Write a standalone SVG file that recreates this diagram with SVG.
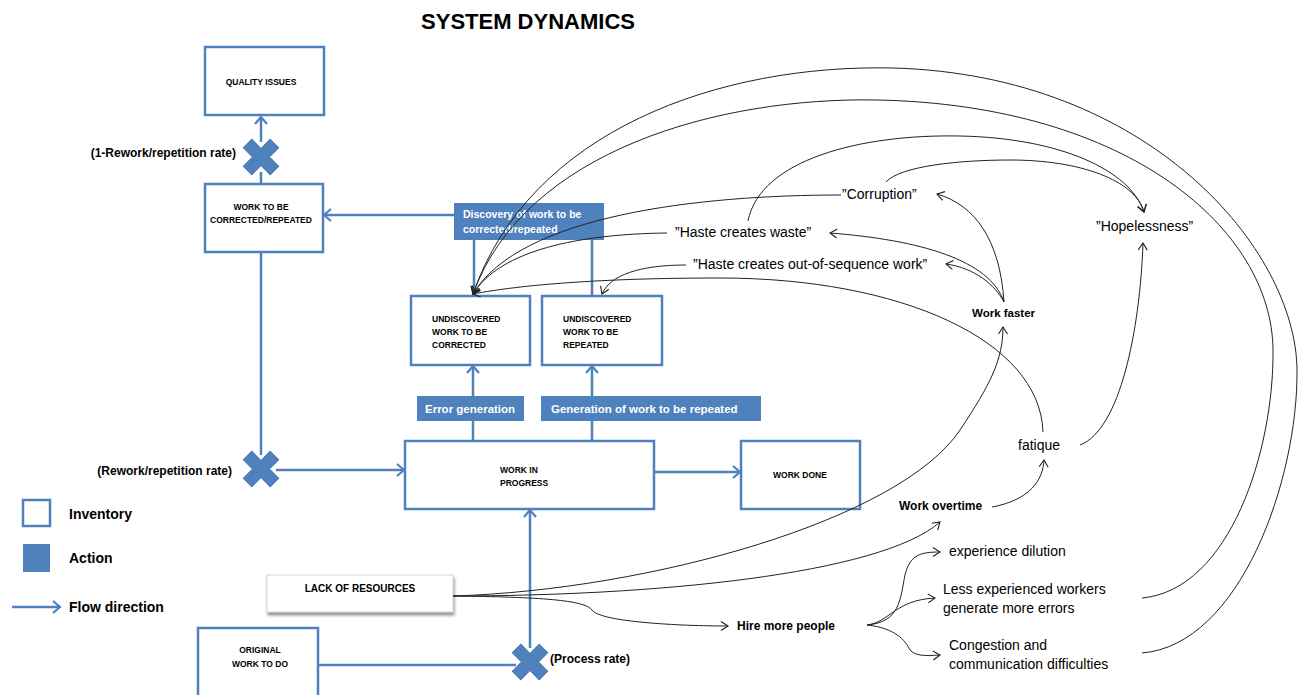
<svg xmlns="http://www.w3.org/2000/svg" xmlns:xlink="http://www.w3.org/1999/xlink" width="1298" height="695" viewBox="0 0 1298 695">
  <style>
    text { font-family: "Liberation Sans", Arial, sans-serif; fill: #000; }
    .title { font-size: 22px; font-weight: bold; }
    .stock { fill: #fff; stroke: #4F81BD; stroke-width: 2.5; }
    .action { fill: #4F81BD; stroke: #4A7AB5; stroke-width: 1; }
    .boxtxt { font-size: 8.5px; font-weight: bold; }
    .acttxt { font-size: 11.5px; font-weight: bold; fill: #fff; }
    .flow { fill: none; stroke: #4F81BD; stroke-width: 2.5; }
    .flowA { fill: none; stroke: #4F81BD; stroke-width: 2.5; marker-end: url(#flowHead); }
    .link { fill: none; stroke: #222; stroke-width: 1; }
    .linkA { fill: none; stroke: #222; stroke-width: 1; marker-end: url(#linkHead); }
    .rate { font-size: 12px; font-weight: bold; }
    .lbl { font-size: 14px; }
    .blbl { font-size: 12px; font-weight: bold; }
    .legend { font-size: 14px; font-weight: bold; }
  </style>
  <defs>
    <marker id="flowHead" markerWidth="12" markerHeight="14" refX="8" refY="7" orient="auto" markerUnits="userSpaceOnUse">
      <path d="M1,1 L8,7 L1,13" fill="none" stroke="#4F81BD" stroke-width="2.2"/>
    </marker>
    <marker id="linkHead" markerWidth="12" markerHeight="12" refX="8" refY="5" orient="auto" markerUnits="userSpaceOnUse">
      <path d="M1,0.5 L8,5 L1,9.5" fill="none" stroke="#222" stroke-width="1.1"/>
    </marker>
    <!-- rate valve: a cross rotated 45 degrees -->
    <g id="valve">
      <polygon transform="rotate(45)" class="action" stroke="#3D6A9E" stroke-width="1.5"
        points="-6,-19 6,-19 6,-6 19,-6 19,6 6,6 6,19 -6,19 -6,6 -19,6 -19,-6 -6,-6"/>
    </g>
    <filter id="shadow" x="-10%" y="-30%" width="125%" height="180%">
      <feDropShadow dx="1" dy="3" stdDeviation="1.5" flood-color="#777" flood-opacity="0.8"/>
    </filter>
  </defs>

  <text class="title" x="528" y="29" text-anchor="middle">SYSTEM DYNAMICS</text>

  <!-- material flows -->
  <g id="flows">
    <path class="flowA" d="M261,142 L261,117"/>
    <path class="flow" d="M261,184 L261,172"/>
    <path class="flow" d="M261,253 L261,455"/>
    <path class="flowA" d="M276,470 L404,470"/>
    <path class="flowA" d="M454,215 L324,215"/>
    <path class="flow" d="M473,441 L473,421"/>
    <path class="flowA" d="M473,396 L473,366"/>
    <path class="flow" d="M592,441 L592,421"/>
    <path class="flowA" d="M592,396 L592,366"/>
    <path class="flow" d="M474,240 L474,296"/>
    <path class="flow" d="M592,240 L592,296"/>
    <path class="flowA" d="M655,472 L740,472"/>
    <path class="flow" d="M318,665 L516,665"/>
    <path class="flowA" d="M530,648 L530,510"/>
    <path class="flowA" d="M12,607 L60,607"/>
  </g>

  <!-- stocks -->
  <g id="quality-issues">
    <rect class="stock" x="205" y="47" width="119" height="68"/>
    <text class="boxtxt" x="261" y="85" text-anchor="middle">QUALITY ISSUES</text>
  </g>
  <g id="work-to-be-corrected">
    <rect class="stock" x="205" y="184" width="118" height="68"/>
    <text class="boxtxt" x="261" y="210" text-anchor="middle">WORK TO BE</text>
    <text class="boxtxt" x="261" y="223" text-anchor="middle">CORRECTED/REPEATED</text>
  </g>
  <g id="undiscovered-corrected">
    <rect class="stock" x="411" y="296" width="119" height="69"/>
    <text class="boxtxt" x="432" y="322">UNDISCOVERED</text>
    <text class="boxtxt" x="432" y="335">WORK TO BE</text>
    <text class="boxtxt" x="432" y="348">CORRECTED</text>
  </g>
  <g id="undiscovered-repeated">
    <rect class="stock" x="542" y="296" width="120" height="69"/>
    <text class="boxtxt" x="563" y="322">UNDISCOVERED</text>
    <text class="boxtxt" x="563" y="335">WORK TO BE</text>
    <text class="boxtxt" x="563" y="348">REPEATED</text>
  </g>
  <g id="work-in-progress">
    <rect class="stock" x="405" y="441" width="249" height="68"/>
    <text class="boxtxt" x="500" y="473">WORK IN</text>
    <text class="boxtxt" x="500" y="486">PROGRESS</text>
  </g>
  <g id="work-done">
    <rect class="stock" x="741" y="441" width="119" height="68"/>
    <text class="boxtxt" x="800" y="478" text-anchor="middle">WORK DONE</text>
  </g>
  <g id="original-work">
    <rect class="stock" x="198" y="628" width="120" height="72"/>
    <text class="boxtxt" x="260" y="653" text-anchor="middle">ORIGINAL</text>
    <text class="boxtxt" x="260" y="667" text-anchor="middle">WORK TO DO</text>
  </g>

  <!-- actions -->
  <g id="discovery">
    <rect x="454" y="203" width="150" height="37" fill="#4F81BD"/>
    <text class="acttxt" x="463" y="218" style="font-size:10.5px">Discovery of work to be</text>
    <text class="acttxt" x="463" y="233" style="font-size:10.5px">corrected/repeated</text>
  </g>
  <g id="error-generation">
    <rect x="417" y="396" width="107" height="25" fill="#4F81BD"/>
    <text class="acttxt" x="425" y="413">Error generation</text>
  </g>
  <g id="repeat-generation">
    <rect x="541" y="396" width="220" height="25" fill="#4F81BD"/>
    <text class="acttxt" x="551" y="413">Generation of work to be repeated</text>
  </g>

  <!-- rates -->
  <g id="rate-quality">
    <use xlink:href="#valve" x="261" y="157"/>
    <text class="rate" x="236" y="157" text-anchor="end">(1-Rework/repetition rate)</text>
  </g>
  <g id="rate-rework">
    <use xlink:href="#valve" x="261" y="469"/>
    <text class="rate" x="232" y="475" text-anchor="end">(Rework/repetition rate)</text>
  </g>
  <g id="rate-process">
    <use xlink:href="#valve" x="530" y="662"/>
    <text class="rate" x="550" y="663">(Process rate)</text>
  </g>

  <!-- lack of resources -->
  <g id="lack-of-resources">
    <rect x="267" y="575" width="186" height="37" fill="#fff" stroke="#d8d8d8" stroke-width="1" filter="url(#shadow)"/>
    <text x="360" y="592" text-anchor="middle" style="font-size:10px;font-weight:bold">LACK OF RESOURCES</text>
  </g>

  <!-- causal connectors -->
  <g id="connectors">
    <path class="linkA" d="M1142,653 C1240,645 1298,480 1297,370 C1296,250 1150,75 893,68 C720,64 530,130 473,294"/>
    <path class="linkA" d="M1142,598 C1230,590 1274,450 1273,350 C1272,230 1130,105 877,100 C720,97 525,150 473,294"/>
    <path class="linkA" d="M748,221 C760,160 860,134 960,136 C1060,138 1130,170 1144,212"/>
    <path class="linkA" d="M886,182 C900,166 960,160 1010,160 C1080,160 1135,180 1144,212"/>
    <path class="linkA" d="M841,195 C700,195 520,215 473,294"/>
    <path class="linkA" d="M667,233 C580,234 500,250 473,294"/>
    <path class="linkA" d="M686,265 C640,265 610,275 602,294"/>
    <path class="linkA" d="M1043,432 C1040,340 900,278 720,278 C600,278 520,285 473,294"/>
    <path class="linkA" d="M1004,302 C1000,240 975,205 937,194"/>
    <path class="linkA" d="M1004,302 C990,260 920,240 830,233"/>
    <path class="linkA" d="M1004,302 C995,285 975,268 946,264"/>
    <path class="linkA" d="M453,596 C650,590 900,520 960,430 C990,385 1003,360 1003,327"/>
    <path class="linkA" d="M453,596 C650,596 880,575 940,522"/>
    <path class="linkA" d="M453,596 C540,597 585,600 592,610 C600,622 680,626 728,626"/>
    <path class="linkA" d="M992,507 C1030,500 1043,480 1044,460"/>
    <path class="linkA" d="M1080,445 C1120,430 1140,330 1143,243"/>
    <path class="linkA" d="M867,625 C900,622 900,600 905,575 C910,555 920,552 940,552"/>
    <path class="linkA" d="M867,625 C890,622 895,600 935,598"/>
    <path class="linkA" d="M867,625 C895,628 905,640 910,650 C915,656 925,656 940,655"/>
  </g>

  <!-- causal labels -->
  <g id="corruption"><text class="lbl" x="842" y="199">”Corruption”</text></g>
  <g id="haste-waste"><text class="lbl" x="675" y="237">”Haste creates waste”</text></g>
  <g id="haste-sequence"><text class="lbl" x="693" y="269">”Haste creates out-of-sequence work”</text></g>
  <g id="hopelessness"><text class="lbl" x="1096" y="231">”Hopelessness”</text></g>
  <g id="work-faster"><text class="blbl" x="972" y="317" style="font-size:11.5px">Work faster</text></g>
  <g id="fatique"><text class="lbl" x="1018" y="450">fatique</text></g>
  <g id="work-overtime"><text class="blbl" x="899" y="510">Work overtime</text></g>
  <g id="hire-more-people"><text class="blbl" x="737" y="630">Hire more people</text></g>
  <g id="experience-dilution"><text class="lbl" x="949" y="556">experience dilution</text></g>
  <g id="less-experienced">
    <text class="lbl" x="943" y="594">Less experienced workers</text>
    <text class="lbl" x="943" y="613">generate more errors</text>
  </g>
  <g id="congestion">
    <text class="lbl" x="949" y="650">Congestion and</text>
    <text class="lbl" x="949" y="669">communication difficulties</text>
  </g>

  <!-- legend -->
  <g id="legend">
    <rect x="23" y="500" width="27" height="26" fill="#fff" stroke="#4F81BD" stroke-width="2.5"/>
    <text class="legend" x="69" y="519">Inventory</text>
    <rect x="23" y="544" width="27" height="28" fill="#4F81BD"/>
    <text class="legend" x="69" y="563">Action</text>
    <text class="legend" x="69" y="612">Flow direction</text>
  </g>
</svg>
